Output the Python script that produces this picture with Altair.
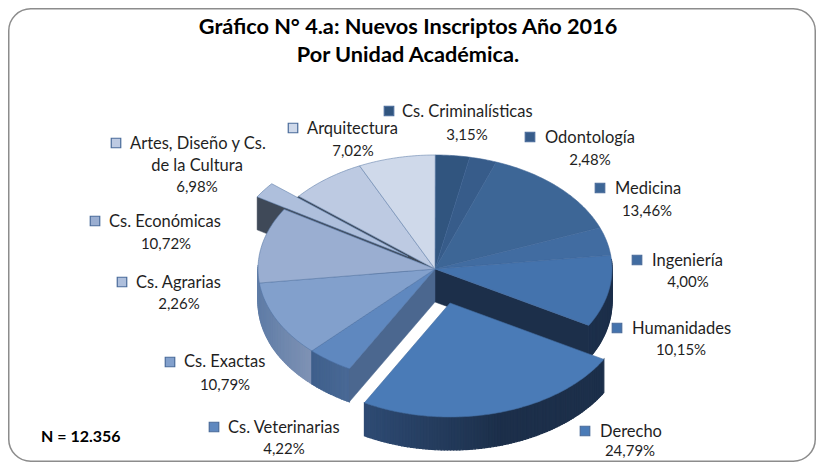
import math
import altair as alt
import pandas as pd

# ---------- data ----------
categories = ["Cs. Criminalísticas", "Odontología", "Medicina", "Ingeniería", "Humanidades",
              "Derecho", "Cs. Veterinarias", "Cs. Exactas", "Cs. Económicas", "Cs. Agrarias",
              "Artes, Diseño y Cs.", "Arquitectura"]
percentages = [3.15, 2.48, 13.46, 4.00, 10.15, 24.79, 4.22, 10.79, 10.72, 2.26, 6.98, 7.02]
top_colors = ["#31557f", "#375c8a", "#3d6696", "#416ca1", "#4473ad", "#4a7bb7",
              "#5f88bf", "#82a0cc", "#9aaed1", "#aebfdc", "#bdcae2", "#cfd9ea"]

# ---------- layout (page pixels) ----------
OX, OY = 8, 8
CX, CY, RX, RY, DEPTH = 435, 269, 177, 114, 33
EXPLODE = {"Derecho": (15, 34), "Cs. Agrarias": (-27, -12.5)}
FONT = "Lato"
LABELS = {
    "Cs. Criminalísticas": (389, 111, 402, 112, 467, 135),
    "Odontología": (530, 137, 545, 138, 590, 160),
    "Medicina": (600, 188, 615, 189, 647, 211),
    "Ingeniería": (637, 260, 652, 261, 688, 282),
    "Humanidades": (617, 328, 632, 329, 681, 350),
    "Derecho": (585, 431, 600, 432, 630, 451),
    "Cs. Veterinarias": (214, 427, 228, 428, 284, 449),
    "Cs. Exactas": (170, 362, 184, 362, 225, 385),
    "Cs. Agrarias": (122, 282, 136, 283, 179, 304),
    "Cs. Económicas": (95, 221, 109, 222, 166, 244),
    "Artes, Diseño y Cs.": (116, 143, 130, 144, 197, 187),
    "Arquitectura": (293, 128, 307, 129, 353, 151),
}


def hex2rgb(h):
    return [int(h[i:i + 2], 16) for i in (1, 3, 5)]


def mix(a, b, t):
    ra, rb = hex2rgb(a), hex2rgb(b)
    return "#%02x%02x%02x" % tuple(round(x + (y - x) * t) for x, y in zip(ra, rb))


def pt(theta, dx=0, dy=0):
    r = math.radians(theta)
    return [CX + dx + RX * math.sin(r) - OX, CY + dy - RY * math.cos(r) - OY]


def arc_points(t0, t1, dx=0, dy=0, down=0):
    n = max(2, int(abs(t1 - t0)) + 1)
    return [pt(t0 + (t1 - t0) * i / n, dx, dy + down) for i in range(n + 1)]


def feat(points, fill, stroke=None, sw=0.5):
    ring = list(points) + [points[0]]
    return {"type": "Feature",
            "geometry": {"type": "Polygon", "coordinates": [ring]},
            "properties": {"fill": fill, "stroke": stroke or fill, "sw": sw}}


def top(t0, t1, fill, dx=0, dy=0):
    centre = [CX + dx - OX, CY + dy - OY]
    return feat([centre] + arc_points(t0, t1, dx, dy), fill,
                mix(fill, "#3f6496", 0.7), 0.6)


def wall(t0, t1, colour_at, dx=0, dy=0):
    out = []
    n = max(1, int(abs(t1 - t0)))
    for i in range(n):
        a = t0 + (t1 - t0) * i / n
        b = t0 + (t1 - t0) * (i + 1) / n
        c = colour_at(pt((a + b) / 2, dx, dy)[0] + OX)
        out.append(feat([pt(a, dx, dy), pt(b, dx, dy), pt(b, dx, dy + DEPTH), pt(a, dx, dy + DEPTH)], c, c, 1.2))
    return out


def ramp(x0, c0, x1, c1):
    def f(x):
        t = min(1, max(0, (x - x0) / (x1 - x0)))
        return mix(c0, c1, t)
    return f


def radial(theta, colour, dx=0, dy=0):
    a = [CX + dx - OX, CY + dy - OY]
    b = pt(theta, dx, dy)
    return feat([a, b, [b[0], b[1] + DEPTH], [a[0], a[1] + DEPTH]], colour, colour, 0.5)


# slice angles
angles, cum = {}, 0.0
for name, val in zip(categories, percentages):
    angles[name] = (cum * 3.6, (cum + val) * 3.6)
    cum += val
colour = dict(zip(categories, top_colors))

features = []
# hole of the exploded small slice and its inner wall
t0, t1 = angles["Cs. Agrarias"]
ax, ay = EXPLODE["Cs. Agrarias"]
features.append(feat([[CX - OX, CY - OY]] + arc_points(t0, t1), "#3d4858"))
features.append(radial(t0, "#3f4958", ax, ay))

# outer walls of the main pie
hum0, hum1 = angles["Humanidades"]
features += wall(85, hum1, lambda x: "#1c2f4a")
vt0, vt1 = angles["Cs. Veterinarias"]
ex0, ex1 = angles["Cs. Exactas"]
features += wall(ex0, 272, ramp(258, "#5f7ca6", 312, "#8093b5"))
features += wall(vt0, vt1, ramp(312, "#3f5f8c", 350, "#4a6a96"))
# radial walls of the gap left by the big slice
features.append(radial(hum1, "#1c2f4a"))
features.append(radial(vt0, "#4b678f"))

# top faces of the main pie
for name in categories:
    if name in EXPLODE:
        continue
    a, b = angles[name]
    features.append(top(a, b, colour[name]))

# Agrarias top
features.append(top(t0, t1, colour["Cs. Agrarias"], ax, ay))

# Derecho, pulled out
d0, d1 = angles["Derecho"]
dx, dy = EXPLODE["Derecho"]
features += wall(d0, d1, ramp(363, "#2e4b74", 500, "#1c2f4a"), dx, dy)
features.append(top(d0, d1, colour["Derecho"], dx, dy))

geo = alt.InlineData(values={"type": "FeatureCollection", "features": features},
                     format=alt.DataFormat(property="features", type="json"))

pie = alt.Chart(geo).mark_geoshape().encode(
    fill=alt.Fill("properties.fill:N", scale=None),
    stroke=alt.Stroke("properties.stroke:N", scale=None),
    strokeWidth=alt.StrokeWidth("properties.sw:Q", scale=None),
).project(type="identity", scale=1, translate=[0, 0])

frame = alt.Chart(alt.Data(values=[{"k": 1}])).mark_rect(
    cornerRadius=22, fill="white", stroke="#8c8c8c", strokeWidth=1.5
).encode(x=alt.value(0.75), x2=alt.value(807.25), y=alt.value(0.75), y2=alt.value(453.25))

# ---------- texts ----------
rows, pct_rows, squares = [], [], []
for name, val, col in zip(categories, percentages, top_colors):
    sx, sy, tx, ty, px, py = LABELS[name]
    squares.append({"x": sx - OX, "y": sy - OY, "fill": col})
    rows.append({"x": tx - OX, "y": ty - OY, "t": name})
    pct_rows.append({"x": px - OX, "y": py - OY, "t": f"{val:.2f}".replace(".", ",") + "%"})
X = alt.X("x:Q", scale=None, axis=None)
Y = alt.Y("y:Q", scale=None, axis=None)

left = alt.Chart(pd.DataFrame(rows)).mark_text(
    font=FONT, fontSize=16.5, color="#1f1f1f", align="left", baseline="middle"
).encode(x=X, y=Y, text="t:N")
pct = alt.Chart(pd.DataFrame(pct_rows)).mark_text(
    font=FONT, fontSize=15, color="#1f1f1f", align="center", baseline="middle"
).encode(x=X, y=Y, text="t:N")
second_line = alt.Chart(pd.DataFrame({"x": [197 - OX], "y": [166 - OY], "t": ["de la Cultura"]})).mark_text(
    font=FONT, fontSize=16.5, color="#1f1f1f", align="center", baseline="middle"
).encode(x=X, y=Y, text="t:N")
marks = alt.Chart(pd.DataFrame(squares)).mark_square(
    size=90, opacity=1, stroke="#4a6b9a", strokeWidth=1.2
).encode(x=X, y=Y, fill=alt.Fill("fill:N", scale=None))

title_df = pd.DataFrame({
    "x": [408 - OX, 408 - OX],
    "y": [27 - OY, 55 - OY],
    "t": ["Gráfico N° 4.a: Nuevos Inscriptos Año 2016", "Por Unidad Académica."],
})
title = alt.Chart(title_df).mark_text(
    font=FONT, fontSize=21.7, fontWeight="bold", color="black", align="center", baseline="middle"
).encode(x=X, y=Y, text="t:N")
n_df = pd.DataFrame({"x": [41 - OX], "y": [437 - OY], "t": ["N = 12.356"]})
n_label = alt.Chart(n_df).mark_text(
    font=FONT, fontSize=16, fontWeight="bold", color="black", align="left", baseline="middle"
).encode(x=X, y=Y, text="t:N")

chart = alt.layer(frame, pie, marks, left, pct, second_line, title, n_label).properties(
    width=808, height=454, padding=0, autosize=alt.AutoSizeParams(type="none"), background="white"
).configure_view(stroke=None)

chart.save("out.html", embed_options={"renderer": "svg", "actions": False})
